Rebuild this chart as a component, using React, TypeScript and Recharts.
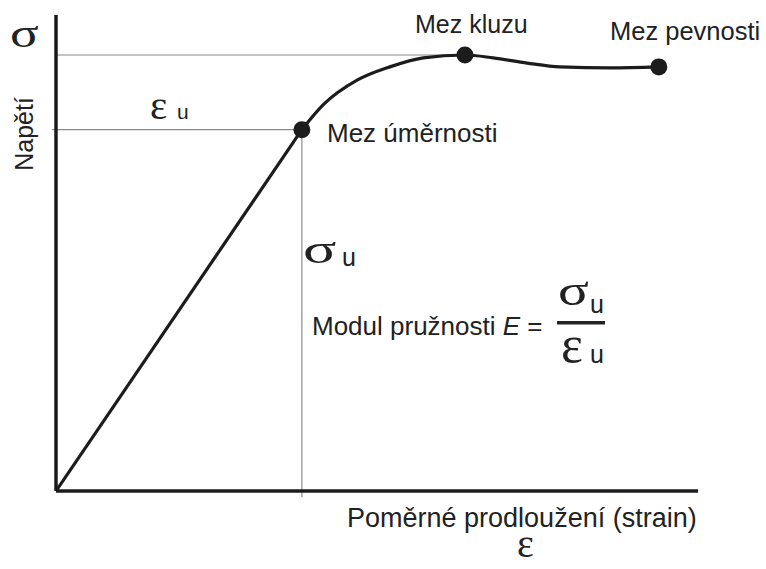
import { ComposedChart, Line, Scatter, XAxis, YAxis, ReferenceLine } from "recharts";

// strain (x) / stress (y), both in % of plot range
const elasticPart = [
  { x: 0, y: 0 },
  { x: 38.3, y: 75.9 },
];

const plasticPart = [
  { x: 38.3, y: 75.9 },
  { x: 41.6, y: 81.1 },
  { x: 46.9, y: 86.3 },
  { x: 52.0, y: 89.1 },
  { x: 57.2, y: 91.0 },
  { x: 63.7, y: 91.6 },
  { x: 68.1, y: 91.0 },
  { x: 73.4, y: 89.9 },
  { x: 78.5, y: 89.1 },
  { x: 86.3, y: 88.9 },
  { x: 93.9, y: 89.1 },
];

// Mez úměrnosti, Mez kluzu, Mez pevnosti
const keyPoints = [
  { x: 38.3, y: 75.9, name: "Mez úměrnosti" },
  { x: 63.7, y: 91.6, name: "Mez kluzu" },
  { x: 93.9, y: 89.1, name: "Mez pevnosti" },
];

const ink = "#1c1c1c";
const guide = "#8a8a8a";
const sans = "'Liberation Sans', Arial, sans-serif";
const serif = "'Liberation Serif', 'Times New Roman', serif";

const BigDot = (props: any) => <circle cx={props.cx} cy={props.cy} r={8.5} fill={ink} />;

export default function App() {
  const up = keyPoints[0];
  const yieldPt = keyPoints[1];

  return (
    <div style={{ position: "absolute", left: 0, top: 0, width: 766, height: 569, background: "#fff" }}>
      <ComposedChart width={766} height={569} margin={{ top: 15, right: 68, bottom: 78, left: 56 }}>
        <XAxis type="number" dataKey="x" domain={[0, 100]} hide allowDataOverflow />
        <YAxis type="number" dataKey="y" domain={[0, 100]} hide allowDataOverflow />
        <ReferenceLine segment={[{ x: 0, y: yieldPt.y }, { x: yieldPt.x, y: yieldPt.y }]}
          stroke={guide} strokeWidth={1.2} ifOverflow="visible" />
        <ReferenceLine segment={[{ x: -0.6, y: up.y }, { x: up.x, y: up.y }]}
          stroke={guide} strokeWidth={1.2} ifOverflow="visible" />
        <ReferenceLine segment={[{ x: up.x, y: up.y }, { x: up.x, y: -1.3 }]}
          stroke={guide} strokeWidth={1.2} ifOverflow="visible" />
        {/* axis lines */}
        <ReferenceLine x={0} stroke={ink} strokeWidth={3.5} ifOverflow="visible" />
        <ReferenceLine y={0} stroke={ink} strokeWidth={3.5} ifOverflow="visible" />
        <Line data={elasticPart} dataKey="y" type="linear" stroke={ink} strokeWidth={3.2}
          dot={false} isAnimationActive={false} />
        <Line data={plasticPart} dataKey="y" type="monotone" stroke={ink} strokeWidth={3.2}
          dot={false} isAnimationActive={false} />
        <Scatter data={keyPoints} dataKey="y" shape={BigDot} isAnimationActive={false} />
      </ComposedChart>

      <svg width={766} height={569} style={{ position: "absolute", left: 0, top: 0, pointerEvents: "none" }}>
        <g fill="#222">
          <text transform="translate(10,47) scale(1.3,1)" fontFamily={serif} fontSize={41}>σ</text>
          <text transform="translate(33,134) rotate(-90)" textAnchor="middle" fontFamily={sans} fontSize={25}>Napětí</text>

          <text x={150} y={119} fontFamily={serif} fontSize={41}>ε</text>
          <text x={177} y={119} fontFamily={sans} fontSize={21}>u</text>

          <text x={327} y={142} fontFamily={sans} fontSize={26}>{keyPoints[0].name}</text>
          <text x={415} y={33} fontFamily={sans} fontSize={25}>{keyPoints[1].name}</text>
          <text x={610} y={40} fontFamily={sans} fontSize={25.5}>{keyPoints[2].name}</text>

          <text transform="translate(303,263) scale(1.55,1)" fontFamily={serif} fontSize={40}>σ</text>
          <text x={342} y={266} fontFamily={sans} fontSize={25}>u</text>

          <text x={312} y={335} fontFamily={sans} fontSize={26}>
            Modul pružnosti <tspan fontStyle="italic">E</tspan> =
          </text>
          <rect x={557} y={321} width={48} height={3.5} fill="#222" />
          <text transform="translate(558,305) scale(1.3,1)" fontFamily={serif} fontSize={44}>σ</text>
          <text x={590} y={313} fontFamily={sans} fontSize={25}>u</text>
          <text x={561} y={362} fontFamily={serif} fontSize={52}>ε</text>
          <text x={590} y={363} fontFamily={sans} fontSize={25}>u</text>

          <text x={347} y={527} fontFamily={sans} fontSize={27}>Poměrné prodloužení (strain)</text>
          <text x={517} y={557} fontFamily={serif} fontSize={40}>ε</text>
        </g>
      </svg>
    </div>
  );
}
